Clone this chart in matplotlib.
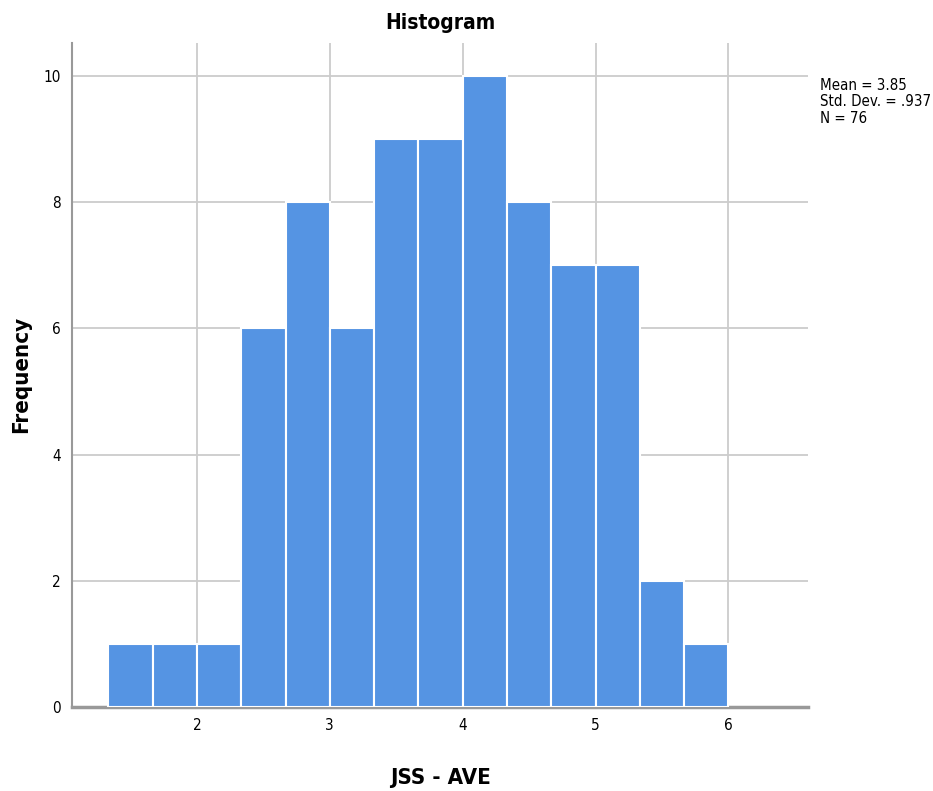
import numpy as np
import matplotlib
matplotlib.use('Agg')
from matplotlib import pyplot as plt

# bin edges (width 1/3) and the counts
bin_start = 4 / 3
bin_width = 1 / 3
counts = [1, 1, 1, 6, 8, 6, 9, 9, 10, 8, 7, 7, 2, 1]
x_ticks = [2, 3, 4, 5, 6]
y_ticks = [0, 2, 4, 6, 8, 10]
stats_text = "Mean = 3.85\nStd. Dev. = .937\nN = 76"

plt.rcParams['font.family'] = ['DejaVu Sans']
plt.rcParams['font.stretch'] = 'condensed'

fig = plt.figure(figsize=(9.33, 7.91), dpi=100)
ax = fig.add_axes([0.0772, 0.106, 0.789, 0.84])

lefts = bin_start + bin_width * np.arange(len(counts))
ax.bar(lefts, counts, width=bin_width, align='edge', color='#5594e3',
       edgecolor='white', linewidth=1.5, zorder=3)

ax.set_xlim(1.06, 6.60)
ax.set_ylim(0, 10.52)
ax.set_xticks(x_ticks)
ax.set_yticks(y_ticks)
ax.tick_params(length=0, labelsize=11, pad=8)
ax.tick_params(axis='x', pad=8)
ax.grid(True, color='#cccccc', linewidth=1.3, zorder=0)
for s in ['top', 'right']:
    ax.spines[s].set_visible(False)
ax.spines['left'].set_color('#999999')
ax.spines['left'].set_linewidth(1.5)
ax.spines['bottom'].set_color('#999999')
ax.spines['bottom'].set_linewidth(2.5)

ax.set_title('Histogram', fontsize=15, fontweight='bold', pad=10)
ax.set_xlabel('JSS - AVE', fontsize=16, fontweight='bold')
ax.set_ylabel('Frequency', fontsize=16, fontweight='bold')
ax.xaxis.set_label_coords(0.5, -0.092)
ax.yaxis.set_label_coords(-0.055, 0.5)

fig.text(0.879, 0.902, stats_text, fontsize=10.8, va='top', ha='left', linespacing=1.15)

plt.savefig('out.png', dpi=100)
